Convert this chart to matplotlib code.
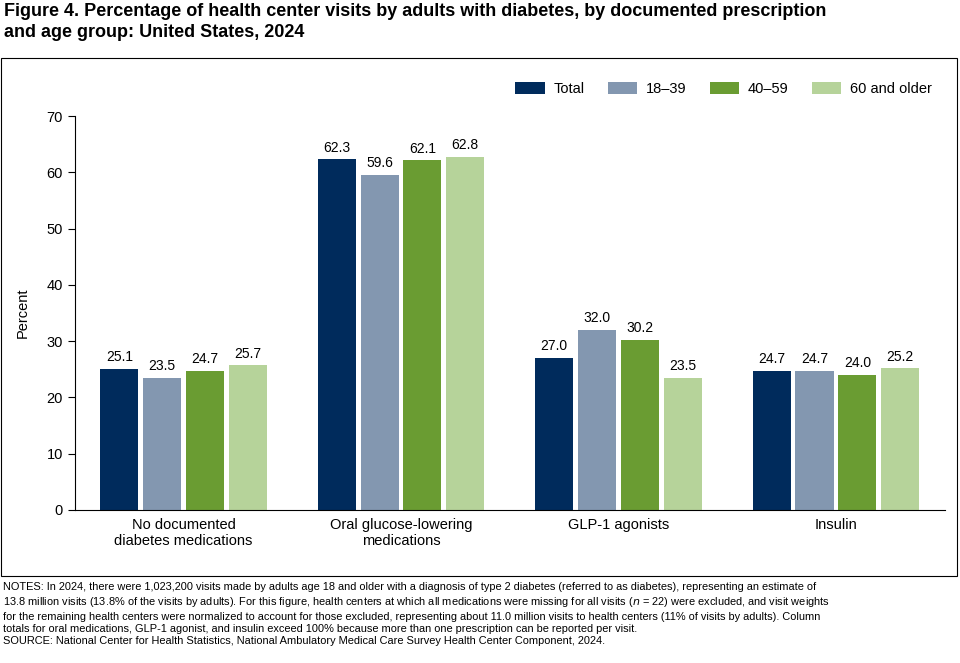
import matplotlib
matplotlib.use("Agg")
import matplotlib.pyplot as plt
from matplotlib.patches import Rectangle
import numpy as np

plt.rcParams['font.family'] = ['Liberation Sans', 'DejaVu Sans']

categories = ["No documented\ndiabetes medications", "Oral glucose-lowering\nmedications", "GLP-1 agonists", "Insulin"]
series_names = ["Total", "18\u201339", "40\u201359", "60 and older"]
total = [25.1, 62.3, 27.0, 24.7]
age_18_39 = [23.5, 59.6, 32.0, 24.7]
age_40_59 = [24.7, 62.1, 30.2, 24.0]
age_60_plus = [25.7, 62.8, 23.5, 25.2]
values = [total, age_18_39, age_40_59, age_60_plus]
colors = ["#002B5C", "#8397B0", "#6A9C32", "#B6D39A"]

fig = plt.figure(figsize=(9.6, 6.63), dpi=100)
fig.patches.append(Rectangle((0.001, 0.131), 0.996, 0.781, transform=fig.transFigure,
                             fill=False, edgecolor="black", linewidth=0.8))
fig.text(0.004, 0.995, "Figure 4. Percentage of health center visits by adults with diabetes, by documented prescription\nand age group: United States, 2024",
         ha="left", va="top", fontsize=13, fontweight="bold", linespacing=1.25)

ax = fig.add_axes([0.078, 0.231, 0.906, 0.594])
x = np.arange(len(categories))
w = 0.175
step = 0.197
for i, (name, vals, c) in enumerate(zip(series_names, values, colors)):
    pos = x + (i - 1.5) * step
    ax.bar(pos, vals, width=w, color=c, label=name)
    for p, v in zip(pos, vals):
        ax.text(p, v + 0.8, f"{v:.1f}", ha="center", va="bottom", fontsize=10)

ax.set_xlim(-0.5, 3.5)
ax.set_ylim(0, 70)
ax.set_yticks(range(0, 71, 10))
ax.set_xticks(x)
ax.set_xticklabels(categories, fontsize=10.5)
ax.tick_params(axis='x', length=0, pad=6)
ax.tick_params(axis='y', labelsize=10.5, direction='out', length=5)
for s in ["top", "right"]:
    ax.spines[s].set_visible(False)
ax.set_ylabel("Percent", fontsize=10.5, labelpad=12)
ax.legend(loc="upper right", bbox_to_anchor=(1.0, 1.12), ncol=4, frameon=False,
          fontsize=10.5, handlelength=2.0, handleheight=0.9, columnspacing=1.6, handletextpad=0.6)

notes = ("NOTES: In 2024, there were 1,023,200 visits made by adults age 18 and older with a diagnosis of type 2 diabetes (referred to as diabetes), representing an estimate of\n"
         "13.8 million visits (13.8% of the visits by adults). For this figure, health centers at which all medications were missing for all visits ($n$ = 22) were excluded, and visit weights\n"
         "for the remaining health centers were normalized to account for those excluded, representing about 11.0 million visits to health centers (11% of visits by adults). Column\n"
         "totals for oral medications, GLP-1 agonist, and insulin exceed 100% because more than one prescription can be reported per visit.\n"
         "SOURCE: National Center for Health Statistics, National Ambulatory Medical Care Survey Health Center Component, 2024.")
fig.text(0.003, 0.122, notes, ha="left", va="top", fontsize=7.9, linespacing=1.3)

fig.savefig("out.png", dpi=100)
